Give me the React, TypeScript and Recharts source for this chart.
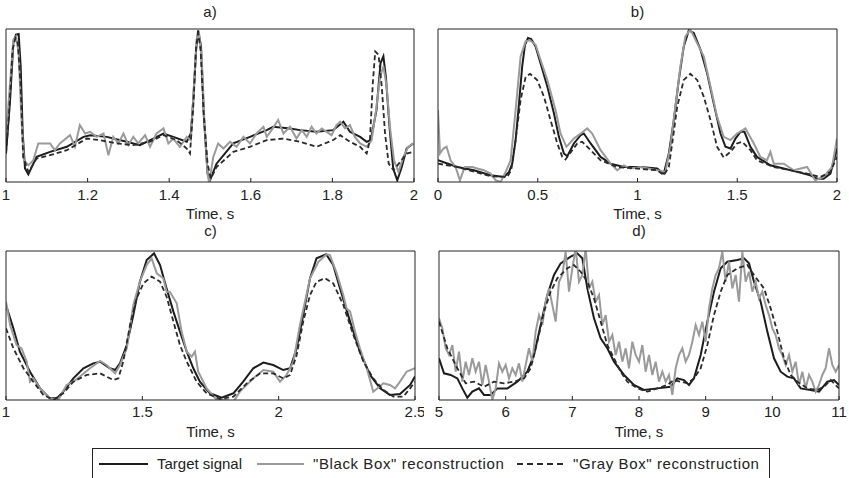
import React from 'react';
import { LineChart, Line, XAxis, YAxis } from 'recharts';

type P = [number, number];

// ---------- Panel a) ----------
const ticksA = [1, 1.2, 1.4, 1.6, 1.8, 2];
const targetA: P[] = [
  [1.0, 18.6], [1.01, 53.6], [1.018, 90.8], [1.0245, 96.3], [1.031, 96.7], [1.036, 75.5], [1.041, 31.7],
  [1.0466, 8.8], [1.0547, 5.0], [1.075, 16.4], [1.108, 19.7], [1.149, 23.0], [1.19, 29.5], [1.206, 30.6],
  [1.247, 29.5], [1.296, 26.3], [1.328, 24.1], [1.361, 28.4], [1.386, 31.7], [1.41, 29.5], [1.443, 26.3],
  [1.453, 31.7], [1.459, 53.6], [1.466, 86.4], [1.471, 99.1], [1.478, 88.6], [1.485, 42.7], [1.494, 5.5],
  [1.5, 1.1], [1.516, 12.0], [1.557, 25.2], [1.598, 29.5], [1.639, 33.9], [1.655, 36.1], [1.696, 35.0],
  [1.721, 33.9], [1.761, 32.8], [1.802, 33.9], [1.827, 39.4], [1.843, 32.8], [1.868, 29.5], [1.884, 26.3],
  [1.894, 27.3], [1.908, 47.0], [1.918, 77.7], [1.925, 82.1], [1.931, 68.9], [1.94, 36.1], [1.949, 8.8],
  [1.959, 1.1], [1.97, 9.8], [1.982, 21.9], [1.998, 25.2],
];
const blackBoxA: P[] = [
  [1.0, 29.5], [1.01, 64.5], [1.018, 93.0], [1.0245, 95.2], [1.031, 84.2], [1.0376, 42.7], [1.044, 14.2],
  [1.055, 10.9], [1.067, 14.2], [1.079, 25.2], [1.108, 25.2], [1.12, 20.8], [1.132, 25.2], [1.157, 30.6],
  [1.169, 23.0], [1.181, 37.2], [1.194, 31.7], [1.206, 32.8], [1.222, 29.5], [1.239, 31.7], [1.251, 17.5],
  [1.263, 29.5], [1.275, 25.2], [1.288, 31.7], [1.3, 24.1], [1.312, 29.5], [1.324, 25.2], [1.341, 30.6],
  [1.353, 23.0], [1.369, 31.7], [1.386, 35.0], [1.398, 25.2], [1.41, 28.4], [1.426, 23.0], [1.443, 29.5],
  [1.453, 27.3], [1.461, 64.5], [1.467, 93.0], [1.473, 97.4], [1.48, 79.9], [1.487, 36.1], [1.494, 5.5],
  [1.498, -0.7], [1.508, 16.4], [1.52, 25.2], [1.533, 21.9], [1.549, 26.3], [1.565, 23.0], [1.582, 29.5],
  [1.598, 25.2], [1.614, 31.7], [1.631, 36.1], [1.639, 29.5], [1.651, 33.9], [1.667, 40.5], [1.68, 31.7],
  [1.696, 36.1], [1.712, 28.4], [1.725, 33.9], [1.737, 29.5], [1.749, 36.1], [1.761, 31.7], [1.774, 35.0],
  [1.786, 32.8], [1.798, 30.6], [1.81, 37.2], [1.819, 39.4], [1.831, 35.0], [1.843, 37.2], [1.855, 29.5],
  [1.868, 25.2], [1.884, 23.0], [1.896, 27.3], [1.907, 47.0], [1.917, 68.9], [1.925, 75.5], [1.933, 62.4],
  [1.941, 36.1], [1.951, 14.2], [1.962, 6.6], [1.974, 16.4], [1.986, 23.0], [1.998, 25.2],
];
const grayBoxA: P[] = [
  [1.0, 18.6], [1.008, 47.0], [1.016, 86.4], [1.023, 94.1], [1.029, 90.8], [1.036, 62.4], [1.042, 16.4],
  [1.055, 6.6], [1.075, 15.3], [1.108, 17.5], [1.149, 20.8], [1.198, 28.4], [1.23, 27.4], [1.271, 25.2],
  [1.312, 24.1], [1.353, 26.3], [1.386, 30.6], [1.418, 27.4], [1.443, 21.9], [1.451, 18.6], [1.459, 49.2],
  [1.466, 88.6], [1.471, 97.4], [1.477, 86.4], [1.485, 42.7], [1.494, 12.0], [1.502, 2.2], [1.516, 9.8],
  [1.557, 19.7], [1.598, 23.0], [1.639, 27.4], [1.68, 28.4], [1.721, 26.3], [1.761, 23.0], [1.802, 27.4],
  [1.819, 30.6], [1.843, 26.3], [1.868, 23.0], [1.884, 18.6], [1.892, 27.4], [1.899, 64.5], [1.905, 85.3],
  [1.913, 83.2], [1.921, 62.4], [1.929, 31.7], [1.938, 12.0], [1.95, 7.7], [1.966, 13.1], [1.982, 18.6],
  [1.998, 19.7],
];

// ---------- Panel b) ----------
const ticksB = [0, 0.5, 1, 1.5, 2];
const targetB: P[] = [
  [0.0, 14.2], [0.097, 9.8], [0.18, 7.7], [0.264, 4.4], [0.331, 3.3], [0.356, 6.6], [0.372, 12.0],
  [0.389, 27.4], [0.406, 51.4], [0.422, 75.5], [0.436, 89.7], [0.451, 94.1], [0.467, 93.4], [0.489, 88.6],
  [0.514, 77.7], [0.548, 62.4], [0.581, 44.9], [0.606, 29.5], [0.631, 18.6], [0.648, 16.8], [0.681, 25.2],
  [0.715, 30.6], [0.731, 31.7], [0.765, 25.2], [0.815, 16.4], [0.865, 12.0], [0.932, 9.8], [1.015, 9.8],
  [1.098, 8.8], [1.132, 5.5], [1.157, 18.6], [1.182, 40.5], [1.207, 66.7], [1.232, 88.6], [1.257, 99.1],
  [1.282, 97.4], [1.316, 86.4], [1.349, 71.1], [1.382, 51.4], [1.416, 31.7], [1.441, 23.0], [1.466, 21.9],
  [1.491, 28.4], [1.516, 32.8], [1.536, 32.8], [1.566, 23.0], [1.599, 16.4], [1.666, 10.9], [1.733, 8.8],
  [1.8, 6.6], [1.866, 4.4], [1.9, 2.2], [1.933, 2.2], [1.967, 5.5], [2.0, 21.9],
];
const blackBoxB: P[] = [
  [0.0, 47.0], [0.01, 18.6], [0.027, 21.9], [0.043, 23.0], [0.063, 14.2], [0.088, 9.8], [0.11, 1.1],
  [0.134, 9.8], [0.172, 9.8], [0.197, 8.8], [0.23, 7.7], [0.264, 5.5], [0.289, 1.1], [0.314, 0.0],
  [0.339, 6.6], [0.364, 14.2], [0.389, 47.0], [0.414, 82.1], [0.439, 91.9], [0.461, 92.6], [0.489, 89.7],
  [0.514, 79.9], [0.548, 66.7], [0.589, 47.0], [0.614, 31.7], [0.644, 23.0], [0.681, 28.4], [0.715, 31.7],
  [0.748, 35.0], [0.773, 31.7], [0.815, 20.8], [0.865, 12.0], [0.898, 7.7], [0.932, 10.9], [0.965, 8.8],
  [1.015, 9.8], [1.098, 7.7], [1.14, 6.6], [1.165, 23.0], [1.19, 49.2], [1.215, 75.5], [1.24, 95.2],
  [1.265, 99.6], [1.299, 90.8], [1.332, 82.1], [1.366, 62.4], [1.399, 42.7], [1.432, 29.5], [1.466, 27.4],
  [1.499, 31.7], [1.541, 35.0], [1.583, 25.2], [1.616, 16.4], [1.649, 14.2], [1.666, 19.7], [1.683, 12.0],
  [1.733, 12.0], [1.783, 7.7], [1.85, 9.8], [1.891, 1.1], [1.933, 3.3], [1.975, 9.8], [2.0, 28.4],
];
const grayBoxB: P[] = [
  [0.0, 12.0], [0.097, 9.8], [0.264, 3.7], [0.347, 3.3], [0.367, 7.7], [0.389, 27.4], [0.414, 53.6],
  [0.439, 68.5], [0.461, 70.7], [0.497, 66.7], [0.531, 55.8], [0.564, 40.5], [0.598, 25.2], [0.623, 16.4],
  [0.639, 14.7], [0.673, 20.8], [0.698, 25.2], [0.723, 26.3], [0.765, 20.8], [0.815, 14.2], [0.898, 9.8],
  [1.098, 7.7], [1.132, 4.4], [1.157, 9.8], [1.174, 25.2], [1.199, 49.2], [1.232, 66.7], [1.265, 70.7],
  [1.299, 66.7], [1.332, 55.8], [1.366, 40.5], [1.399, 23.0], [1.432, 16.0], [1.466, 19.7], [1.499, 25.2],
  [1.524, 26.3], [1.566, 20.8], [1.599, 14.2], [1.683, 9.8], [1.766, 7.7], [1.85, 5.5], [1.917, 3.3],
  [1.967, 6.6], [2.0, 16.4],
];

// ---------- Panel c) ----------
const ticksC = [1, 1.5, 2, 2.5];
const targetC: P[] = [
  [1.0, 63.8], [1.027, 48.1], [1.051, 32.4], [1.088, 19.0], [1.125, 7.8], [1.161, 1.1], [1.186, 1.1],
  [1.21, 5.6], [1.247, 14.5], [1.284, 21.3], [1.32, 24.6], [1.345, 25.7], [1.381, 21.3], [1.4, 20.1],
  [1.418, 24.6], [1.443, 36.9], [1.467, 57.0], [1.491, 79.4], [1.516, 94.0], [1.543, 98.4], [1.565, 90.6],
  [1.589, 74.9], [1.614, 59.3], [1.638, 45.9], [1.663, 32.4], [1.687, 21.3], [1.711, 12.3], [1.748, 4.5],
  [1.791, 1.6], [1.834, 4.5], [1.87, 12.3], [1.907, 21.3], [1.944, 25.1], [1.98, 23.5], [2.017, 20.1],
  [2.042, 21.3], [2.066, 34.7], [2.09, 57.0], [2.115, 81.7], [2.139, 95.1], [2.174, 97.8], [2.2, 90.6],
  [2.225, 74.9], [2.262, 52.6], [2.298, 32.4], [2.335, 16.8], [2.372, 7.8], [2.408, 3.4], [2.445, 4.0],
  [2.482, 10.1], [2.5, 15.7],
];
const blackBoxC: P[] = [
  [1.0, 66.0], [1.015, 50.3], [1.039, 36.9], [1.057, 34.7], [1.076, 25.7], [1.088, 12.3], [1.1, 14.5],
  [1.125, 7.8], [1.161, 1.1], [1.192, 0.0], [1.222, 10.1], [1.247, 12.3], [1.278, 16.8], [1.308, 21.3],
  [1.345, 26.2], [1.369, 23.5], [1.4, 17.9], [1.418, 23.5], [1.443, 34.7], [1.467, 63.8], [1.491, 79.4],
  [1.516, 90.6], [1.534, 95.1], [1.553, 85.0], [1.577, 81.7], [1.589, 72.7], [1.601, 72.7], [1.626, 64.9],
  [1.644, 45.9], [1.663, 32.4], [1.681, 29.1], [1.693, 32.4], [1.705, 19.0], [1.736, 7.8], [1.773, 0.0],
  [1.809, 0.0], [1.834, -1.1], [1.858, 5.6], [1.907, 14.5], [1.944, 20.1], [1.98, 19.0], [2.005, 12.3],
  [2.029, 16.8], [2.054, 25.7], [2.078, 50.3], [2.115, 81.7], [2.146, 92.8], [2.176, 97.8], [2.188, 97.3],
  [2.213, 85.0], [2.237, 70.5], [2.249, 61.5], [2.262, 59.3], [2.28, 45.9], [2.298, 34.7], [2.323, 21.3],
  [2.347, 5.6], [2.384, 11.2], [2.408, 10.1], [2.427, 7.8], [2.445, 12.3], [2.469, 19.0], [2.5, 21.3],
];
const grayBoxC: P[] = [
  [1.0, 48.1], [1.027, 34.7], [1.064, 21.3], [1.1, 12.3], [1.137, 3.4], [1.174, 0.0], [1.21, 4.5],
  [1.247, 12.3], [1.296, 16.8], [1.345, 17.9], [1.394, 13.4], [1.412, 14.5], [1.43, 25.7], [1.455, 50.3],
  [1.479, 68.2], [1.504, 78.3], [1.534, 82.8], [1.565, 79.4], [1.589, 69.3], [1.614, 52.6], [1.638, 36.9],
  [1.663, 25.7], [1.699, 12.3], [1.736, 4.5], [1.785, 0.7], [1.834, 2.2], [1.883, 11.2], [1.932, 17.9],
  [1.98, 17.9], [2.017, 14.5], [2.042, 16.8], [2.066, 30.2], [2.09, 52.6], [2.115, 70.5], [2.139, 79.4],
  [2.17, 81.7], [2.2, 78.3], [2.237, 63.8], [2.274, 43.6], [2.311, 25.7], [2.347, 14.5], [2.384, 6.7],
  [2.421, 2.2], [2.457, 2.2], [2.482, 7.8], [2.5, 12.3],
];

// ---------- Panel d) ----------
const ticksD = [5, 6, 7, 8, 9, 10, 11];
const targetD: P[] = [
  [5.0, 28.0], [5.075, 17.9], [5.175, 16.8], [5.275, 14.5], [5.35, 7.8], [5.425, 1.6], [5.5, 5.6],
  [5.6, 7.8], [5.675, 3.4], [5.775, 3.4], [5.875, 7.8], [6.025, 7.8], [6.175, 12.3], [6.325, 19.0],
  [6.425, 30.2], [6.525, 50.3], [6.625, 70.5], [6.725, 83.9], [6.825, 91.7], [6.975, 96.2], [7.075, 98.4],
  [7.15, 95.1], [7.225, 74.9], [7.325, 54.8], [7.425, 41.4], [7.525, 34.7], [7.625, 25.7], [7.775, 16.8],
  [7.925, 10.1], [8.075, 6.7], [8.275, 7.8], [8.475, 8.9], [8.575, 14.5], [8.675, 13.4], [8.75, 10.1],
  [8.825, 14.5], [8.925, 30.2], [9.025, 52.6], [9.125, 72.7], [9.225, 88.4], [9.325, 92.8], [9.475, 94.0],
  [9.575, 95.1], [9.65, 91.7], [9.725, 79.4], [9.825, 66.0], [9.925, 45.9], [10.025, 28.0], [10.125, 19.0],
  [10.225, 15.7], [10.325, 14.5], [10.425, 7.8], [10.575, 6.7], [10.7, 5.6], [10.825, 12.3], [10.925, 13.4],
  [11.0, 10.1],
];
const blackBoxD: P[] = [
  [5.0, 54.8], [5.05, 48.1], [5.1, 34.7], [5.15, 30.2], [5.2, 36.9], [5.25, 19.0], [5.3, 32.4], [5.35, 12.3],
  [5.4, 25.7], [5.45, 16.8], [5.5, 28.0], [5.55, 19.0], [5.6, 25.7], [5.65, 10.1], [5.7, 23.5], [5.75, 12.3],
  [5.8, 0.0], [5.85, 7.8], [5.9, 24.6], [5.95, 19.0], [6.0, 23.5], [6.05, 14.5], [6.1, 21.3], [6.15, 16.8],
  [6.2, 24.6], [6.25, 12.3], [6.3, 23.5], [6.35, 34.7], [6.4, 25.7], [6.45, 45.9], [6.5, 57.0], [6.55, 50.3],
  [6.6, 66.0], [6.65, 74.9], [6.7, 63.8], [6.75, 52.6], [6.8, 79.4], [6.85, 83.9], [6.9, 99.5], [6.95, 72.7],
  [7.0, 88.4], [7.05, 101.8], [7.1, 79.4], [7.15, 83.9], [7.2, 101.8], [7.25, 74.9], [7.3, 79.4], [7.35, 66.0],
  [7.4, 70.5], [7.45, 50.3], [7.5, 57.0], [7.55, 39.1], [7.6, 43.6], [7.65, 30.2], [7.7, 39.1], [7.75, 25.7],
  [7.8, 34.7], [7.85, 21.3], [7.9, 39.1], [7.95, 30.2], [8.0, 25.7], [8.05, 36.9], [8.1, 19.0], [8.15, 30.2],
  [8.2, 16.8], [8.25, 25.7], [8.3, 12.3], [8.35, 19.0], [8.4, 12.3], [8.45, 16.8], [8.5, 3.4], [8.55, 21.3],
  [8.6, 30.2], [8.65, 34.7], [8.7, 25.7], [8.75, 30.2], [8.8, 39.1], [8.85, 50.3], [8.9, 43.6], [8.95, 52.6],
  [9.0, 39.1], [9.05, 61.5], [9.1, 74.9], [9.15, 83.9], [9.2, 88.4], [9.25, 99.5], [9.3, 79.4], [9.35, 92.8],
  [9.4, 74.9], [9.45, 83.9], [9.5, 66.0], [9.55, 99.5], [9.6, 79.4], [9.65, 86.1], [9.7, 72.7], [9.75, 79.4],
  [9.8, 68.2], [9.85, 72.7], [9.9, 63.8], [9.95, 57.0], [10.0, 48.1], [10.05, 43.6], [10.1, 34.7], [10.15, 30.2],
  [10.2, 23.5], [10.25, 30.2], [10.3, 19.0], [10.35, 25.7], [10.4, 10.1], [10.45, 19.0], [10.5, 7.8],
  [10.55, 16.8], [10.6, 12.3], [10.65, 5.6], [10.7, 10.1], [10.75, 16.8], [10.8, 21.3], [10.85, 34.7],
  [10.9, 23.5], [10.95, 19.0], [11.0, 23.5],
];
const grayBoxD: P[] = [
  [5.0, 52.6], [5.125, 34.7], [5.275, 21.3], [5.4, 11.2], [5.525, 12.3], [5.675, 8.9], [5.825, 12.3],
  [5.975, 11.2], [6.125, 12.3], [6.275, 14.5], [6.375, 21.3], [6.475, 39.1], [6.575, 59.3], [6.675, 72.7],
  [6.775, 81.7], [6.925, 88.4], [7.025, 90.6], [7.125, 86.1], [7.225, 79.4], [7.325, 68.2], [7.425, 52.6],
  [7.525, 36.9], [7.625, 28.0], [7.725, 19.0], [7.825, 12.3], [7.975, 7.8], [8.125, 5.6], [8.275, 7.8],
  [8.425, 10.1], [8.525, 13.4], [8.625, 12.3], [8.725, 11.2], [8.825, 14.5], [8.925, 21.3], [9.025, 36.9],
  [9.125, 57.0], [9.225, 72.7], [9.325, 83.9], [9.475, 88.4], [9.625, 90.6], [9.725, 83.9], [9.875, 74.9],
  [9.975, 61.5], [10.075, 45.9], [10.175, 28.0], [10.275, 16.8], [10.375, 12.3], [10.525, 7.8], [10.675, 6.7],
  [10.775, 8.9], [10.875, 13.4], [11.0, 7.8],
];

const titles = ['a)', 'b)', 'c)', 'd)'];
const axisLabel = 'Time, s';
const legendLabels = ['Target signal', '"Black Box" reconstruction', '"Gray Box" reconstruction'];

const FONT = '"Liberation Sans", Arial, Helvetica, sans-serif';
const INK = '#222';
const C_TARGET = '#1c1c1c';
const C_BLACK = '#9a9a9a';
const C_GRAY = '#2a2a2a';

const rows = (pts: P[]) => pts.map(([t, v]) => ({ t, v }));

interface PanelProps {
  title: string;
  left: number;
  top: number;
  width: number;
  height: number;
  margin: { top: number; right: number; bottom: number; left: number };
  domain: [number, number];
  ticks: number[];
  target: P[];
  blackBox: P[];
  grayBox: P[];
  titleOffset: number;
  tickMargin: number;
}

function Panel(p: PanelProps) {
  return (
    <div style={{ position: 'absolute', left: p.left, top: p.top, fontFamily: FONT }}>
      <LineChart width={p.width} height={p.height} margin={p.margin}>
        <XAxis
          xAxisId="b"
          dataKey="t"
          type="number"
          domain={p.domain}
          ticks={p.ticks}
          interval={0}
          allowDataOverflow
          tickSize={-4}
          tickMargin={p.tickMargin}
          height={40}
          axisLine={{ stroke: INK }}
          tickLine={{ stroke: INK }}
          tick={{ fill: INK, fontSize: 15 }}
          label={{ value: axisLabel, position: 'insideBottom', offset: 3.5, fill: INK, fontSize: 15 }}
        />
        <XAxis
          xAxisId="t"
          orientation="top"
          type="number"
          domain={p.domain}
          ticks={p.ticks}
          interval={0}
          allowDataOverflow
          tick={false}
          tickSize={-4}
          height={1}
          axisLine={{ stroke: INK }}
          tickLine={{ stroke: INK }}
          label={{ value: p.title, position: 'top', offset: p.titleOffset, fill: INK, fontSize: 15 }}
        />
        <YAxis
          yAxisId="l"
          type="number"
          domain={[0, 100]}
          allowDataOverflow
          tick={false}
          tickLine={false}
          width={1}
          axisLine={{ stroke: INK }}
        />
        <YAxis
          yAxisId="r"
          orientation="right"
          type="number"
          domain={[0, 100]}
          allowDataOverflow
          tick={false}
          tickLine={false}
          width={1}
          axisLine={{ stroke: INK }}
        />
        <Line
          xAxisId="b"
          yAxisId="l"
          data={rows(p.target)}
          dataKey="v"
          type="linear"
          stroke={C_TARGET}
          strokeWidth={2}
          dot={false}
          activeDot={false}
          isAnimationActive={false}
        />
        <Line
          xAxisId="b"
          yAxisId="l"
          data={rows(p.blackBox)}
          dataKey="v"
          type="linear"
          stroke={C_BLACK}
          strokeWidth={2}
          dot={false}
          activeDot={false}
          isAnimationActive={false}
        />
        <Line
          xAxisId="b"
          yAxisId="l"
          data={rows(p.grayBox)}
          dataKey="v"
          type="linear"
          stroke={C_GRAY}
          strokeWidth={1.8}
          strokeDasharray="5 3"
          dot={false}
          activeDot={false}
          isAnimationActive={false}
        />
      </LineChart>
    </div>
  );
}

function LegendBox() {
  return (
    <svg
      width={849}
      height={478}
      style={{ position: 'absolute', left: 0, top: 0, pointerEvents: 'none', fontFamily: FONT }}
    >
      <rect x={92.5} y={448.5} width={677} height={40} fill="#fff" stroke={INK} strokeWidth={1} />
      <line x1={99} x2={148} y1={464} y2={464} stroke={C_TARGET} strokeWidth={2} />
      <text x={157} y={468.5} fontSize={15} fill={INK}>{legendLabels[0]}</text>
      <line x1={257} x2={304} y1={464} y2={464} stroke={C_BLACK} strokeWidth={2} />
      <text x={313} y={468.5} fontSize={15} fill={INK} letterSpacing={0.6}>{legendLabels[1]}</text>
      <line x1={517} x2={567} y1={464} y2={464} stroke={C_GRAY} strokeWidth={1.8} strokeDasharray="6 4" />
      <text x={573} y={468.5} fontSize={15} fill={INK} letterSpacing={0.6}>{legendLabels[2]}</text>
    </svg>
  );
}

export default function App() {
  return (
    <div
      style={{
        position: 'absolute',
        left: 0,
        top: 0,
        width: 849,
        height: 478,
        overflow: 'hidden',
        background: '#fff',
      }}
    >
      <Panel
        title={titles[0]}
        left={0}
        top={0}
        width={424}
        height={220}
        margin={{ top: 28, right: 9, bottom: -2, left: 5 }}
        domain={[1, 2]}
        ticks={ticksA}
        target={targetA}
        blackBox={blackBoxA}
        grayBox={grayBoxA}
        titleOffset={11}
        tickMargin={11}
      />
      <Panel
        title={titles[1]}
        left={424}
        top={0}
        width={425}
        height={220}
        margin={{ top: 28, right: 11, bottom: -2, left: 13 }}
        domain={[0, 2]}
        ticks={ticksB}
        target={targetB}
        blackBox={blackBoxB}
        grayBox={grayBoxB}
        titleOffset={11}
        tickMargin={11}
      />
      <Panel
        title={titles[2]}
        left={0}
        top={220}
        width={424}
        height={230}
        margin={{ top: 30, right: 8, bottom: 10, left: 5 }}
        domain={[1, 2.5]}
        ticks={ticksC}
        target={targetC}
        blackBox={blackBoxC}
        grayBox={grayBoxC}
        titleOffset={14}
        tickMargin={10}
      />
      <Panel
        title={titles[3]}
        left={424}
        top={220}
        width={425}
        height={230}
        margin={{ top: 30, right: 9, bottom: 10, left: 14 }}
        domain={[5, 11]}
        ticks={ticksD}
        target={targetD}
        blackBox={blackBoxD}
        grayBox={grayBoxD}
        titleOffset={14}
        tickMargin={10}
      />
      <LegendBox />
    </div>
  );
}
